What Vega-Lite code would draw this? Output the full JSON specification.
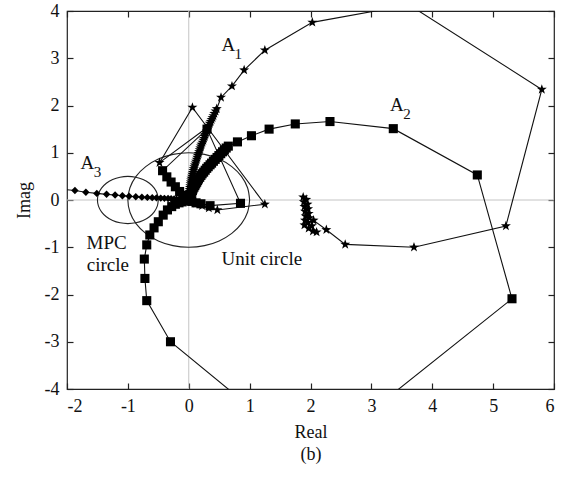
{
  "$schema": "https://vega.github.io/schema/vega-lite/v6.json",
  "autosize": "none",
  "width": 487,
  "height": 378,
  "padding": {"left": 67, "top": 11, "right": 13, "bottom": 89},
  "background": "white",
  "config": {
    "view": {"stroke": "#222", "strokeWidth": 1.2},
    "font": "Liberation Serif",
    "axis": {
      "grid": false,
      "domain": false,
      "offset": -6,
      "ticks": true,
      "tickSize": 6,
      "tickWidth": 1.2,
      "tickColor": "#222",
      "zindex": 1,
      "labelFont": "Liberation Serif",
      "labelFontSize": 18,
      "labelColor": "#111",
      "labelPadding": 8,
      "titleFont": "Liberation Serif",
      "titleFontSize": 18,
      "titleFontWeight": "normal",
      "titleColor": "#111"
    }
  },
  "datasets": {
    "curves": [
      {"s": "A1", "i": 0, "x": 1.88, "y": 0.06},
      {"s": "A1", "i": 1, "x": 1.93, "y": 0.01},
      {"s": "A1", "i": 2, "x": 1.89, "y": -0.04},
      {"s": "A1", "i": 3, "x": 1.95, "y": -0.09},
      {"s": "A1", "i": 4, "x": 1.90, "y": -0.14},
      {"s": "A1", "i": 5, "x": 1.96, "y": -0.19},
      {"s": "A1", "i": 6, "x": 1.91, "y": -0.24},
      {"s": "A1", "i": 7, "x": 1.97, "y": -0.29},
      {"s": "A1", "i": 8, "x": 1.92, "y": -0.34},
      {"s": "A1", "i": 9, "x": 1.98, "y": -0.38},
      {"s": "A1", "i": 10, "x": 1.91, "y": -0.43},
      {"s": "A1", "i": 11, "x": 1.96, "y": -0.48},
      {"s": "A1", "i": 12, "x": 1.90, "y": -0.53},
      {"s": "A1", "i": 13, "x": 1.97, "y": -0.60},
      {"s": "A1", "i": 14, "x": 2.04, "y": -0.66},
      {"s": "A1", "i": 15, "x": 2.10, "y": -0.68},
      {"s": "A1", "i": 16, "x": 2.02, "y": -0.55},
      {"s": "A1", "i": 17, "x": 2.05, "y": -0.43},
      {"s": "A1", "i": 18, "x": 2.26, "y": -0.63},
      {"s": "A1", "i": 19, "x": 2.57, "y": -0.94},
      {"s": "A1", "i": 20, "x": 3.70, "y": -1.00},
      {"s": "A1", "i": 21, "x": 5.21, "y": -0.55},
      {"s": "A1", "i": 22, "x": 5.80, "y": 2.34},
      {"s": "A1", "i": 23, "x": 3.62, "y": 4.13},
      {"s": "A1", "i": 24, "x": 2.03, "y": 3.76},
      {"s": "A1", "i": 25, "x": 1.25, "y": 3.17},
      {"s": "A1", "i": 26, "x": 0.91, "y": 2.75},
      {"s": "A1", "i": 27, "x": 0.71, "y": 2.41},
      {"s": "A1", "i": 28, "x": 0.53, "y": 2.17},
      {"s": "A1", "i": 29, "x": 0.46, "y": 1.93},
      {"s": "A1", "i": 30, "x": 0.44, "y": 1.88},
      {"s": "A1", "i": 31, "x": 0.42, "y": 1.83},
      {"s": "A1", "i": 32, "x": 0.405, "y": 1.78},
      {"s": "A1", "i": 33, "x": 0.39, "y": 1.74},
      {"s": "A1", "i": 34, "x": 0.375, "y": 1.70},
      {"s": "A1", "i": 35, "x": 0.36, "y": 1.66},
      {"s": "A1", "i": 36, "x": 0.345, "y": 1.62},
      {"s": "A1", "i": 37, "x": 0.33, "y": 1.58},
      {"s": "A1", "i": 38, "x": 0.32, "y": 1.54},
      {"s": "A1", "i": 39, "x": 0.31, "y": 1.50},
      {"s": "A1", "i": 40, "x": 0.295, "y": 1.46},
      {"s": "A1", "i": 41, "x": 0.28, "y": 1.42},
      {"s": "A1", "i": 42, "x": 0.27, "y": 1.38},
      {"s": "A1", "i": 43, "x": 0.26, "y": 1.34},
      {"s": "A1", "i": 44, "x": 0.25, "y": 1.30},
      {"s": "A1", "i": 45, "x": 0.24, "y": 1.26},
      {"s": "A1", "i": 46, "x": 0.225, "y": 1.22},
      {"s": "A1", "i": 47, "x": 0.21, "y": 1.18},
      {"s": "A1", "i": 48, "x": 0.20, "y": 1.14},
      {"s": "A1", "i": 49, "x": 0.19, "y": 1.10},
      {"s": "A1", "i": 50, "x": 0.18, "y": 1.06},
      {"s": "A1", "i": 51, "x": 0.17, "y": 1.02},
      {"s": "A1", "i": 52, "x": 0.16, "y": 0.98},
      {"s": "A1", "i": 53, "x": 0.15, "y": 0.94},
      {"s": "A1", "i": 54, "x": 0.14, "y": 0.90},
      {"s": "A1", "i": 55, "x": 0.13, "y": 0.86},
      {"s": "A1", "i": 56, "x": 0.12, "y": 0.82},
      {"s": "A1", "i": 57, "x": 0.11, "y": 0.78},
      {"s": "A1", "i": 58, "x": 0.10, "y": 0.74},
      {"s": "A1", "i": 59, "x": 0.09, "y": 0.70},
      {"s": "A1", "i": 60, "x": 0.082, "y": 0.66},
      {"s": "A1", "i": 61, "x": 0.075, "y": 0.62},
      {"s": "A1", "i": 62, "x": 0.068, "y": 0.58},
      {"s": "A1", "i": 63, "x": 0.06, "y": 0.54},
      {"s": "A1", "i": 64, "x": 0.052, "y": 0.50},
      {"s": "A1", "i": 65, "x": 0.045, "y": 0.46},
      {"s": "A1", "i": 66, "x": 0.04, "y": 0.42},
      {"s": "A1", "i": 67, "x": 0.035, "y": 0.38},
      {"s": "A1", "i": 68, "x": 0.03, "y": 0.34},
      {"s": "A1", "i": 69, "x": 0.025, "y": 0.30},
      {"s": "A1", "i": 70, "x": 0.02, "y": 0.26},
      {"s": "A1", "i": 71, "x": 0.015, "y": 0.22},
      {"s": "A1", "i": 72, "x": 0.012, "y": 0.18},
      {"s": "A1", "i": 73, "x": 0.01, "y": 0.15},
      {"s": "A1", "i": 74, "x": 0.008, "y": 0.12},
      {"s": "A1", "i": 75, "x": 0.005, "y": 0.08},
      {"s": "A1", "i": 76, "x": 0.002, "y": 0.05},
      {"s": "A1", "i": 77, "x": 0.0, "y": 0.02},
      {"s": "A1", "i": 78, "x": 0.05, "y": -0.03},
      {"s": "A1", "i": 79, "x": 0.12, "y": -0.07},
      {"s": "A1", "i": 80, "x": 0.22, "y": -0.12},
      {"s": "A1", "i": 81, "x": 0.33, "y": -0.17},
      {"s": "A1", "i": 82, "x": 0.47, "y": -0.21},
      {"s": "A1", "i": 83, "x": 1.25, "y": -0.09},
      {"s": "A1", "i": 84, "x": 0.06, "y": 1.96},
      {"s": "A1", "i": 85, "x": -0.48, "y": 0.79},
      {"s": "A1", "i": 86, "x": 0.32, "y": 1.55},
      {"s": "A2", "i": 0, "x": 0.0, "y": 0.0},
      {"s": "A2", "i": 1, "x": 0.01, "y": 0.03},
      {"s": "A2", "i": 2, "x": 0.02, "y": 0.06},
      {"s": "A2", "i": 3, "x": 0.03, "y": 0.095},
      {"s": "A2", "i": 4, "x": 0.04, "y": 0.13},
      {"s": "A2", "i": 5, "x": 0.05, "y": 0.165},
      {"s": "A2", "i": 6, "x": 0.06, "y": 0.20},
      {"s": "A2", "i": 7, "x": 0.07, "y": 0.235},
      {"s": "A2", "i": 8, "x": 0.085, "y": 0.27},
      {"s": "A2", "i": 9, "x": 0.10, "y": 0.305},
      {"s": "A2", "i": 10, "x": 0.115, "y": 0.34},
      {"s": "A2", "i": 11, "x": 0.13, "y": 0.375},
      {"s": "A2", "i": 12, "x": 0.145, "y": 0.41},
      {"s": "A2", "i": 13, "x": 0.16, "y": 0.445},
      {"s": "A2", "i": 14, "x": 0.18, "y": 0.48},
      {"s": "A2", "i": 15, "x": 0.20, "y": 0.52},
      {"s": "A2", "i": 16, "x": 0.22, "y": 0.555},
      {"s": "A2", "i": 17, "x": 0.245, "y": 0.59},
      {"s": "A2", "i": 18, "x": 0.27, "y": 0.63},
      {"s": "A2", "i": 19, "x": 0.295, "y": 0.67},
      {"s": "A2", "i": 20, "x": 0.32, "y": 0.705},
      {"s": "A2", "i": 21, "x": 0.35, "y": 0.745},
      {"s": "A2", "i": 22, "x": 0.375, "y": 0.78},
      {"s": "A2", "i": 23, "x": 0.405, "y": 0.82},
      {"s": "A2", "i": 24, "x": 0.435, "y": 0.86},
      {"s": "A2", "i": 25, "x": 0.465, "y": 0.90},
      {"s": "A2", "i": 26, "x": 0.495, "y": 0.94},
      {"s": "A2", "i": 27, "x": 0.525, "y": 0.98},
      {"s": "A2", "i": 28, "x": 0.555, "y": 1.02},
      {"s": "A2", "i": 29, "x": 0.585, "y": 1.06},
      {"s": "A2", "i": 30, "x": 0.615, "y": 1.10},
      {"s": "A2", "i": 31, "x": 0.65, "y": 1.14},
      {"s": "A2", "i": 32, "x": 0.80, "y": 1.23},
      {"s": "A2", "i": 33, "x": 1.03, "y": 1.36},
      {"s": "A2", "i": 34, "x": 1.32, "y": 1.50},
      {"s": "A2", "i": 35, "x": 1.75, "y": 1.61},
      {"s": "A2", "i": 36, "x": 2.32, "y": 1.66},
      {"s": "A2", "i": 37, "x": 3.36, "y": 1.51},
      {"s": "A2", "i": 38, "x": 4.74, "y": 0.53},
      {"s": "A2", "i": 39, "x": 5.31, "y": -2.09},
      {"s": "A2", "i": 40, "x": 2.03, "y": -5.46},
      {"s": "A2", "i": 41, "x": -0.30, "y": -3.00},
      {"s": "A2", "i": 42, "x": -0.69, "y": -2.13},
      {"s": "A2", "i": 43, "x": -0.72, "y": -1.66},
      {"s": "A2", "i": 44, "x": -0.73, "y": -1.25},
      {"s": "A2", "i": 45, "x": -0.69, "y": -0.95},
      {"s": "A2", "i": 46, "x": -0.64, "y": -0.74},
      {"s": "A2", "i": 47, "x": -0.57, "y": -0.59},
      {"s": "A2", "i": 48, "x": -0.50, "y": -0.46},
      {"s": "A2", "i": 49, "x": -0.42, "y": -0.32},
      {"s": "A2", "i": 50, "x": -0.35, "y": -0.21},
      {"s": "A2", "i": 51, "x": -0.28, "y": -0.14},
      {"s": "A2", "i": 52, "x": -0.22, "y": -0.09},
      {"s": "A2", "i": 53, "x": -0.16, "y": -0.06},
      {"s": "A2", "i": 54, "x": -0.11, "y": -0.04},
      {"s": "A2", "i": 55, "x": -0.06, "y": -0.02},
      {"s": "A2", "i": 56, "x": -0.02, "y": 0.0},
      {"s": "A2", "i": 57, "x": 0.05, "y": -0.03},
      {"s": "A2", "i": 58, "x": 0.12, "y": -0.06},
      {"s": "A2", "i": 59, "x": 0.20, "y": -0.08},
      {"s": "A2", "i": 60, "x": 0.35, "y": -0.12},
      {"s": "A2", "i": 61, "x": 0.85, "y": -0.07},
      {"s": "A2", "i": 62, "x": 0.30, "y": 1.50},
      {"s": "A2", "i": 63, "x": -0.43, "y": 0.62},
      {"s": "A2", "i": 64, "x": -0.36, "y": 0.49},
      {"s": "A2", "i": 65, "x": -0.29, "y": 0.38},
      {"s": "A2", "i": 66, "x": -0.22, "y": 0.28},
      {"s": "A2", "i": 67, "x": -0.15, "y": 0.18},
      {"s": "A2", "i": 68, "x": -0.09, "y": 0.10},
      {"s": "A2", "i": 69, "x": -0.04, "y": 0.04},
      {"s": "A3", "i": 0, "x": -2.10, "y": 0.23},
      {"s": "A3", "i": 1, "x": -1.87, "y": 0.20},
      {"s": "A3", "i": 2, "x": -1.69, "y": 0.165},
      {"s": "A3", "i": 3, "x": -1.51, "y": 0.14},
      {"s": "A3", "i": 4, "x": -1.35, "y": 0.12},
      {"s": "A3", "i": 5, "x": -1.21, "y": 0.105},
      {"s": "A3", "i": 6, "x": -1.09, "y": 0.09},
      {"s": "A3", "i": 7, "x": -0.98, "y": 0.08},
      {"s": "A3", "i": 8, "x": -0.87, "y": 0.07},
      {"s": "A3", "i": 9, "x": -0.77, "y": 0.06},
      {"s": "A3", "i": 10, "x": -0.68, "y": 0.055},
      {"s": "A3", "i": 11, "x": -0.60, "y": 0.05},
      {"s": "A3", "i": 12, "x": -0.53, "y": 0.045},
      {"s": "A3", "i": 13, "x": -0.46, "y": 0.04},
      {"s": "A3", "i": 14, "x": -0.40, "y": 0.035},
      {"s": "A3", "i": 15, "x": -0.34, "y": 0.03},
      {"s": "A3", "i": 16, "x": -0.29, "y": 0.025},
      {"s": "A3", "i": 17, "x": -0.24, "y": 0.02},
      {"s": "A3", "i": 18, "x": -0.20, "y": 0.018},
      {"s": "A3", "i": 19, "x": -0.16, "y": 0.015},
      {"s": "A3", "i": 20, "x": -0.12, "y": 0.01},
      {"s": "A3", "i": 21, "x": -0.09, "y": 0.008},
      {"s": "A3", "i": 22, "x": -0.06, "y": 0.005},
      {"s": "A3", "i": 23, "x": -0.03, "y": 0.002},
      {"s": "A3", "i": 24, "x": 0.0, "y": 0.0}
    ],
    "circles": [
      {"c": "unit", "i": 0, "x": 1, "y": 0},
      {"c": "unit", "i": 1, "x": 0.966, "y": 0.259},
      {"c": "unit", "i": 2, "x": 0.866, "y": 0.5},
      {"c": "unit", "i": 3, "x": 0.707, "y": 0.707},
      {"c": "unit", "i": 4, "x": 0.5, "y": 0.866},
      {"c": "unit", "i": 5, "x": 0.259, "y": 0.966},
      {"c": "unit", "i": 6, "x": 0, "y": 1},
      {"c": "unit", "i": 7, "x": -0.259, "y": 0.966},
      {"c": "unit", "i": 8, "x": -0.5, "y": 0.866},
      {"c": "unit", "i": 9, "x": -0.707, "y": 0.707},
      {"c": "unit", "i": 10, "x": -0.866, "y": 0.5},
      {"c": "unit", "i": 11, "x": -0.966, "y": 0.259},
      {"c": "unit", "i": 12, "x": -1, "y": 0},
      {"c": "unit", "i": 13, "x": -0.966, "y": -0.259},
      {"c": "unit", "i": 14, "x": -0.866, "y": -0.5},
      {"c": "unit", "i": 15, "x": -0.707, "y": -0.707},
      {"c": "unit", "i": 16, "x": -0.5, "y": -0.866},
      {"c": "unit", "i": 17, "x": -0.259, "y": -0.966},
      {"c": "unit", "i": 18, "x": 0, "y": -1},
      {"c": "unit", "i": 19, "x": 0.259, "y": -0.966},
      {"c": "unit", "i": 20, "x": 0.5, "y": -0.866},
      {"c": "unit", "i": 21, "x": 0.707, "y": -0.707},
      {"c": "unit", "i": 22, "x": 0.866, "y": -0.5},
      {"c": "unit", "i": 23, "x": 0.966, "y": -0.259},
      {"c": "unit", "i": 24, "x": 1, "y": 0},
      {"c": "mpc", "i": 0, "x": -0.5, "y": 0},
      {"c": "mpc", "i": 1, "x": -0.517, "y": 0.129},
      {"c": "mpc", "i": 2, "x": -0.567, "y": 0.25},
      {"c": "mpc", "i": 3, "x": -0.646, "y": 0.354},
      {"c": "mpc", "i": 4, "x": -0.75, "y": 0.433},
      {"c": "mpc", "i": 5, "x": -0.871, "y": 0.483},
      {"c": "mpc", "i": 6, "x": -1, "y": 0.5},
      {"c": "mpc", "i": 7, "x": -1.129, "y": 0.483},
      {"c": "mpc", "i": 8, "x": -1.25, "y": 0.433},
      {"c": "mpc", "i": 9, "x": -1.354, "y": 0.354},
      {"c": "mpc", "i": 10, "x": -1.433, "y": 0.25},
      {"c": "mpc", "i": 11, "x": -1.483, "y": 0.129},
      {"c": "mpc", "i": 12, "x": -1.5, "y": 0},
      {"c": "mpc", "i": 13, "x": -1.483, "y": -0.129},
      {"c": "mpc", "i": 14, "x": -1.433, "y": -0.25},
      {"c": "mpc", "i": 15, "x": -1.354, "y": -0.354},
      {"c": "mpc", "i": 16, "x": -1.25, "y": -0.433},
      {"c": "mpc", "i": 17, "x": -1.129, "y": -0.483},
      {"c": "mpc", "i": 18, "x": -1, "y": -0.5},
      {"c": "mpc", "i": 19, "x": -0.871, "y": -0.483},
      {"c": "mpc", "i": 20, "x": -0.75, "y": -0.433},
      {"c": "mpc", "i": 21, "x": -0.646, "y": -0.354},
      {"c": "mpc", "i": 22, "x": -0.567, "y": -0.25},
      {"c": "mpc", "i": 23, "x": -0.517, "y": -0.129},
      {"c": "mpc", "i": 24, "x": -0.5, "y": 0}
    ],
    "names": [
      {"t": "A", "sub": "1", "x": 0.65, "y": 3.28},
      {"t": "A", "sub": "2", "x": 3.42, "y": 2.01},
      {"t": "A", "sub": "3", "x": -1.665, "y": 0.78}
    ],
    "notes": [
      {"t": "MPC", "x": -1.35, "y": -0.92},
      {"t": "circle", "x": -1.33, "y": -1.38},
      {"t": "Unit circle", "x": 1.2, "y": -1.25}
    ]
  },
  "resolve": {"axis": {"x": "independent", "y": "independent"}},
  "layer": [
    {
      "data": {"values": [{"v": 0}]},
      "mark": {"type": "rule", "color": "#c4c4c4", "strokeWidth": 1},
      "encoding": {"x": {"field": "v", "type": "quantitative", "axis": null}}
    },
    {
      "data": {"values": [{"v": 0}]},
      "mark": {"type": "rule", "color": "#c4c4c4", "strokeWidth": 1},
      "encoding": {"y": {"field": "v", "type": "quantitative", "axis": null}}
    },
    {
      "data": {"name": "circles"},
      "mark": {"type": "line", "color": "#222", "strokeWidth": 1.1, "interpolate": "catmull-rom", "clip": true},
      "encoding": {
        "x": {"field": "x", "type": "quantitative", "axis": {"orient": "top", "labels": false, "title": null, "values": [-2, -1, 0, 1, 2, 3, 4, 5, 6]}},
        "y": {"field": "y", "type": "quantitative", "axis": {"orient": "right", "labels": false, "title": null, "values": [-4, -3, -2, -1, 0, 1, 2, 3, 4]}},
        "detail": {"field": "c"},
        "order": {"field": "i", "type": "quantitative"}
      }
    },
    {
      "data": {"name": "curves"},
      "mark": {"type": "line", "color": "#111", "strokeWidth": 1.1, "clip": true},
      "encoding": {
        "x": {"field": "x", "type": "quantitative", "scale": {"domain": [-2, 6], "nice": false, "zero": false},
          "axis": {"orient": "bottom", "values": [-2, -1, 0, 1, 2, 3, 4, 5, 6], "labelExpr": "toString(datum.value)", "title": ["Real", "(b)"], "titleLineHeight": 22, "titlePadding": 8}},
        "y": {"field": "y", "type": "quantitative", "scale": {"domain": [-4, 4], "nice": false, "zero": false},
          "axis": {"orient": "left", "values": [-4, -3, -2, -1, 0, 1, 2, 3, 4], "labelExpr": "toString(datum.value)", "title": "Imag", "titlePadding": 11}},
        "detail": {"field": "s"},
        "order": {"field": "i", "type": "quantitative"}
      }
    },
    {
      "data": {"name": "curves"},
      "mark": {"type": "point", "filled": true, "color": "#000", "opacity": 1, "clip": true},
      "encoding": {
        "x": {"field": "x", "type": "quantitative", "axis": null},
        "y": {"field": "y", "type": "quantitative", "axis": null},
        "shape": {"field": "s", "type": "nominal", "legend": null,
          "scale": {"domain": ["A1", "A2", "A3"], "range": ["M0,-1L0.235,-0.324L0.951,-0.309L0.380,0.124L0.588,0.809L0,0.4L-0.588,0.809L-0.380,0.124L-0.951,-0.309L-0.235,-0.324Z", "square", "diamond"]}},
        "size": {"field": "s", "type": "nominal", "legend": null,
          "scale": {"domain": ["A1", "A2", "A3"], "range": [110, 55, 85]}}
      }
    },
    {
      "data": {"name": "names"},
      "mark": {"type": "text", "font": "Liberation Serif", "fontSize": 19, "color": "#111", "align": "center", "baseline": "middle"},
      "encoding": {
        "x": {"field": "x", "type": "quantitative", "axis": null},
        "y": {"field": "y", "type": "quantitative", "axis": null},
        "text": {"field": "t"}
      }
    },
    {
      "data": {"name": "names"},
      "mark": {"type": "text", "font": "Liberation Serif", "fontSize": 15, "color": "#111", "align": "center", "baseline": "middle", "dx": 10, "dy": 9},
      "encoding": {
        "x": {"field": "x", "type": "quantitative", "axis": null},
        "y": {"field": "y", "type": "quantitative", "axis": null},
        "text": {"field": "sub"}
      }
    },
    {
      "data": {"name": "notes"},
      "mark": {"type": "text", "font": "Liberation Serif", "fontSize": 19, "color": "#111", "align": "center", "baseline": "middle"},
      "encoding": {
        "x": {"field": "x", "type": "quantitative", "axis": null},
        "y": {"field": "y", "type": "quantitative", "axis": null},
        "text": {"field": "t"}
      }
    }
  ]
}
